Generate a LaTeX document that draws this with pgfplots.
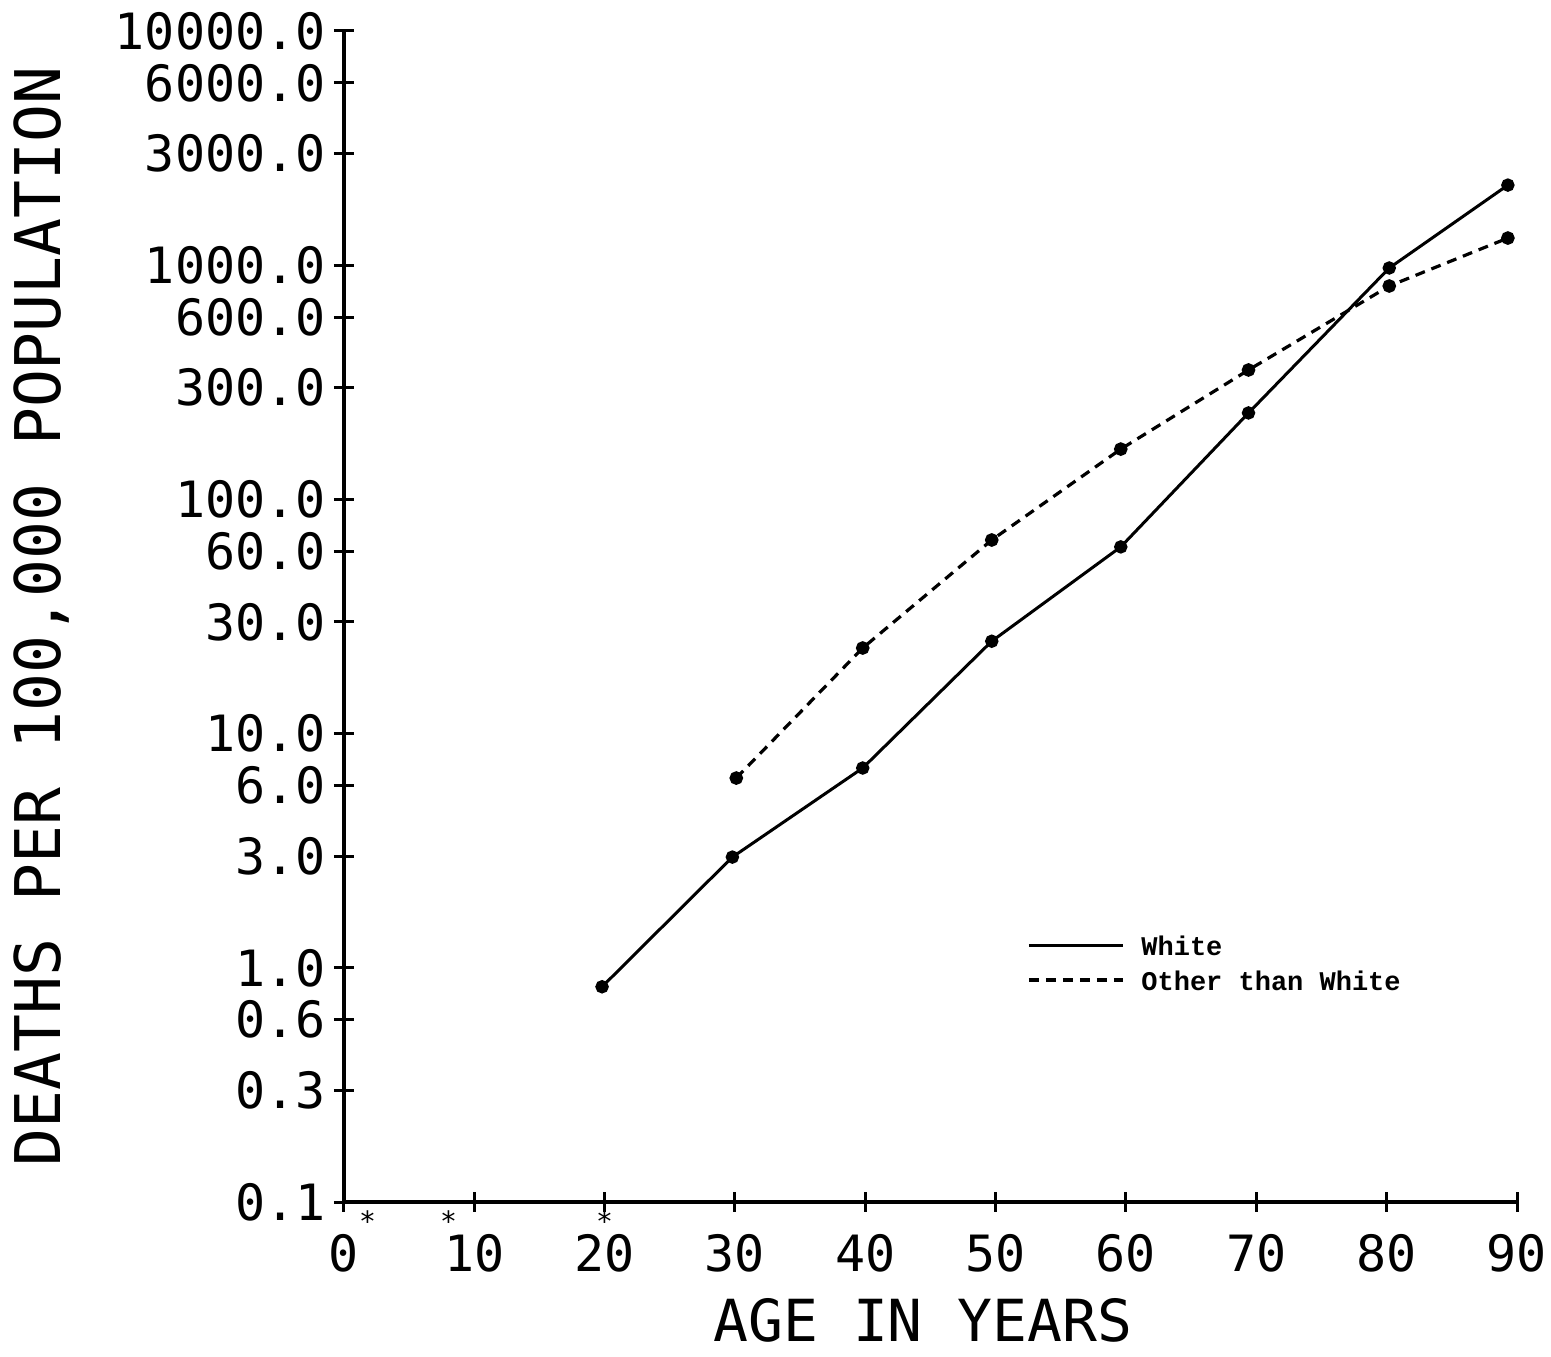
\documentclass[border=0pt]{standalone}
\usepackage{fontspec}
\usepackage{pgfplots}
\pgfplotsset{compat=1.18}
\newfontfamily\tickfont{DejaVu Sans Mono}
\newfontfamily\legfont{Liberation Mono}
\newcommand\st{\raisebox{20pt}[0pt][0pt]{\fontsize{14}{14}\selectfont *}}
\begin{document}
\begin{tikzpicture}
\path[use as bounding box] (-172pt,-77pt) rectangle (603.5pt,601pt);
\begin{axis}[
  at={(0pt,0pt)}, anchor=south west,
  scale only axis, width=586.5pt, height=585.5pt,
  xmin=0, xmax=90, ymin=0.1, ymax=10000, ymode=log,
  axis lines*=left,
  axis line style={line width=2.2pt},
  xtick={0,10,20,30,40,50,60,70,80,90},
  xticklabels={{0\rlap{\st}},{\rlap{\hspace{-2pt}\st}10},{\rlap{\makebox[30.1pt]{\st}}20},30,40,50,60,70,80,90},
  ytick={0.1,0.3,0.6,1,3,6,10,30,60,100,300,600,1000,3000,6000,10000},
  yticklabels={0.1,0.3,0.6,1.0,3.0,6.0,10.0,30.0,60.0,100.0,300.0,600.0,1000.0,3000.0,6000.0,10000.0},
  yminorticks=false, xminorticks=false,
  tick align=center,
  major tick length=10pt,
  every tick/.style={black, line width=1.5pt},
  tick label style={font=\tickfont\fontsize{25}{25}\selectfont, inner sep=0pt},
  yticklabel style={anchor=east, xshift=-4pt},
  xticklabel style={anchor=north, yshift=-11pt},
  xlabel={AGE IN YEARS},
  ylabel={DEATHS PER 100,000 POPULATION},
  xlabel style={font=\tickfont\fontsize{29}{29}\selectfont, inner sep=0pt, at={(axis description cs:0.4935,-0.1008)}, anchor=center},
  ylabel style={font=\tickfont\fontsize{31.5}{31.5}\selectfont, inner sep=0pt, at={(axis description cs:-0.2575,0.5)}, anchor=center},
  clip=false,
  legend style={draw=none, fill=none, at={(axis description cs:0.577,0.172)}, anchor=south west,
    font=\legfont\bfseries\fontsize{13.5}{13.5}\selectfont, nodes={inner sep=1.5pt}, row sep=3pt,
    /tikz/every odd column/.append style={column sep=7pt}},
  legend cell align=left,
  legend image code/.code={\draw[#1] (0pt,1pt) -- (47pt,1pt);},
]
\addplot[black, line width=1.5pt, mark=*, mark size=2.6pt]
  coordinates {(19.8,0.83)(29.8,2.97)(39.8,7.13)(49.7,24.8)(59.6,62.7)(69.4,234)(80.2,973)(89.3,2198)};
\addlegendentry{White}
\addplot[black, line width=1.6pt, dash pattern=on 5pt off 3.5pt, mark=*, mark size=2.6pt, mark options={solid}]
  coordinates {(30.1,6.46)(39.8,23.2)(49.7,67.1)(59.6,164)(69.4,357)(80.2,815)(89.3,1306)};
\addlegendentry{Other than White}
\end{axis}
\end{tikzpicture}
\end{document}
